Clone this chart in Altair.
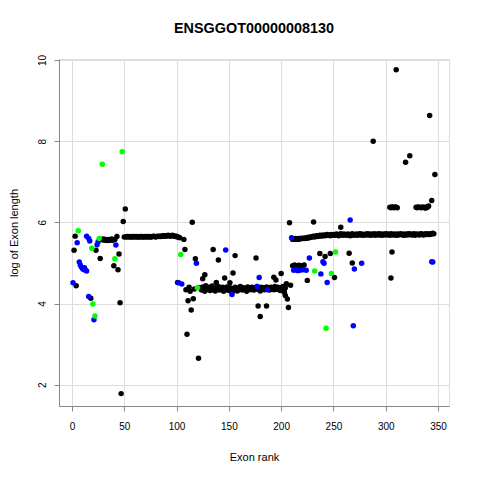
import altair as alt
import pandas as pd

FONT = "Liberation Sans"

# ---------------- data ----------------
# long plateaus of black points (one value per exon rank)
plat1_start = 52
plat1_vals = [5.64,5.65,5.64,5.65,5.64,5.64,5.65,5.64,5.65,5.64,
              5.65,5.64,5.64,5.65,5.64,5.65,5.64,5.64,5.65,5.64,
              5.65,5.64,5.65,5.64,5.64,5.65,5.66,5.65,5.64,5.65,
              5.66,5.65,5.66,5.65,5.66,5.67,5.66,5.67,5.66,5.67,
              5.68,5.67,5.66,5.67,5.68,5.67,5.66,5.65,5.66,5.64,
              5.63,5.62]

plat2_start = 123
plat2_vals = [4.38,4.33,4.41,4.36,4.30,4.44,4.37,4.35,4.40,4.32,
              4.38,4.43,4.34,4.37,4.31,4.39,4.36,4.42,4.33,4.38,
              4.35,4.40,4.30,4.37,4.34,4.41,4.36,4.32,4.39,4.35,
              4.28,4.37,4.33,4.40,4.35,4.31,4.38,4.34,4.42,4.36,
              4.33,4.39,4.35,4.37,4.30,4.41,4.36,4.38,4.34,4.40,
              4.37,4.33,4.39,4.36,4.42,4.35,4.38,4.31,4.40,4.36,
              4.39,4.34,4.37,4.41,4.35,4.38,4.33,4.40,4.36,4.39,
              4.34,4.42,4.37,4.35,4.40,4.38,4.32,4.36,4.41,4.37,
              4.35,4.39]

plat3_start = 211
plat3_vals = [5.58,5.59,5.58,5.60,5.59,5.58,5.60,5.59,5.60,5.61,
              5.60,5.61,5.60,5.62,5.61,5.63,5.62,5.64,5.63,5.65,
              5.66,5.64,5.66,5.67,5.65,5.67,5.68,5.66,5.68,5.67,
              5.69,5.67,5.68,5.70,5.68,5.69,5.67,5.70,5.69,5.68,
              5.70,5.68,5.71,5.69,5.67,5.70,5.72,5.69,5.68,5.71,
              5.69,5.70,5.68,5.71,5.69,5.67,5.70,5.72,5.68,5.70,
              5.69,5.71,5.68,5.70,5.72,5.69,5.71,5.68,5.70,5.69,
              5.71,5.69,5.72,5.70,5.68,5.71,5.69,5.70,5.72,5.68,
              5.70,5.71,5.69,5.72,5.70,5.68,5.71,5.69,5.70,5.72,
              5.69,5.71,5.70,5.68,5.72,5.70,5.69,5.71,5.70,5.68,
              5.71,5.69,5.70,5.72,5.70,5.69,5.71,5.68,5.70,5.71,
              5.69,5.72,5.70,5.71,5.69,5.70,5.72,5.68,5.70,5.71,
              5.70,5.69,5.71,5.72,5.70,5.69,5.71,5.70,5.72,5.70,
              5.71,5.70,5.72,5.71,5.73,5.72]

# other black points
black_rank = [2, 3, 4, 18, 23, 27,
              28, 29, 30, 31, 32, 33, 34, 35, 36, 37, 38, 39, 41,
              40, 43, 44, 45, 46, 47, 49, 50, 51,
              101, 107, 108, 109, 110, 111, 112, 113, 114, 115, 116, 117, 118, 121, 122,
              125, 127, 135, 138, 140, 146, 151, 154, 156, 176, 178, 180, 186, 193, 195, 200,
              201, 202, 203, 204, 205, 206, 207, 208, 209,
              211, 213, 215, 217, 219, 222, 225, 231, 237, 242, 247, 251, 257, 265, 268,
              288, 305, 306,
              304, 305, 306, 307, 308, 309, 310, 311,
              310, 319, 323,
              329, 330, 331, 332, 334, 335, 337, 338, 339, 340, 341,
              342, 344, 347]
black_val = [5.31, 5.66, 4.44, 4.13, 5.31, 5.11,
             5.58, 5.57, 5.59, 5.56, 5.58, 5.57, 5.55, 5.58, 5.56, 5.57, 5.59, 5.56, 5.58,
             4.93, 5.65, 4.83, 5.22, 4.02, 1.78, 6.02, 5.64, 6.33,
             4.52, 5.58, 5.33, 4.34, 3.24, 4.07, 4.40, 4.30, 3.84, 6.00, 4.12, 4.36, 5.10, 2.65, 4.39,
             4.61, 4.71, 5.33, 4.52, 5.07, 4.63, 4.51, 4.75, 5.18, 5.12, 3.94, 3.68, 3.94, 4.65, 4.58, 4.74,
             4.35, 4.42, 4.28, 4.20, 4.49, 4.11, 3.90, 5.99, 4.45,
             4.93, 4.95, 4.92, 4.94, 4.93, 4.95, 4.57, 6.01, 5.23, 5.16, 5.23, 4.64, 5.88, 5.24, 5.00,
             8.00, 4.63, 5.27,
             6.37, 6.36, 6.38, 6.37, 6.36, 6.38, 6.37, 6.36,
             9.76, 7.48, 7.64,
             6.37, 6.36, 6.38, 6.37, 6.36, 6.38, 6.37, 6.35, 6.38, 6.37, 6.40,
             8.63, 6.54, 7.18]

blue_rank = [1, 5, 7, 8, 9, 10, 11, 12, 13, 14, 14, 16, 17, 16, 21, 24, 25, 42,
             102, 105, 119, 147, 153, 177, 179, 187,
             210, 212, 214, 216, 218, 221, 224, 227, 238, 240, 241, 244,
             266, 269, 270, 277, 344, 345]
blue_val = [4.51, 5.50, 5.02, 4.95, 4.90, 4.86, 4.84, 4.88, 4.82, 4.80, 5.66, 5.60, 5.54, 4.17, 3.60, 5.45, 5.52, 5.44,
            4.51, 4.48, 4.99, 5.32, 4.22, 4.42, 4.64, 4.34,
            5.62, 4.82, 4.83, 4.81, 4.82, 4.83, 4.82, 5.12, 4.73, 5.03, 4.99, 4.52,
            6.06, 3.45, 4.85, 4.99, 5.03, 5.02]

green_rank = [6, 19, 20, 22, 26, 29, 41, 48, 104, 120, 232, 243, 248, 252]
green_val = [5.79, 5.36, 3.99, 3.69, 5.60, 7.43, 5.10, 7.74, 5.21, 4.39, 4.80, 3.39, 4.74, 5.27]

x_ticks = [0, 50, 100, 150, 200, 250, 300, 350]
y_ticks = [2, 4, 6, 8, 10]

# ---------------- table ----------------
rows = []
for start, vals in [(plat1_start, plat1_vals), (plat2_start, plat2_vals), (plat3_start, plat3_vals)]:
    for i, v in enumerate(vals):
        rows.append((start + i, v, "black"))
rows += [(r, v, "black") for r, v in zip(black_rank, black_val)]
rows += [(r, v, "blue") for r, v in zip(blue_rank, blue_val)]
rows += [(r, v, "green") for r, v in zip(green_rank, green_val)]
df = pd.DataFrame(rows, columns=["rank", "loglen", "group"])
df["order"] = range(len(df))

chart = alt.Chart(df).mark_circle(size=30, opacity=1).encode(
    x=alt.X("rank:Q",
            scale=alt.Scale(domain=[-12.4, 360.5], nice=False, zero=False),
            axis=alt.Axis(values=x_ticks, title="Exon rank", titleY=54.5,
                          titleBaseline="alphabetic", titleFontWeight=400,
                          labelPadding=10)),
    y=alt.Y("loglen:Q",
            scale=alt.Scale(domain=[1.475, 10.024], nice=False, zero=False),
            axis=alt.Axis(values=y_ticks, title="log of Exon length", titleX=-42,
                          titleBaseline="alphabetic", titleFontWeight=400,
                          labelAngle=270,
                          labelAlign="center", labelBaseline="alphabetic", labelPadding=9)),
    color=alt.Color("group:N",
                    scale=alt.Scale(domain=["black", "blue", "green"],
                                    range=["#000000", "#0000FF", "#00FF00"]),
                    legend=None),
    order="order:Q",
).properties(
    width=390,
    height=347,
    title=alt.TitleParams("ENSGGOT00000008130", font=FONT, fontSize=14.4,
                          fontWeight="bold", color="black", anchor="middle",
                          baseline="alphabetic", offset=7),
    autosize=alt.AutoSizeParams(type="none"),
    padding={"left": 51, "top": 51, "right": 22, "bottom": 60},
).configure_view(
    stroke="black", strokeWidth=1, fill="white"
).configure_axis(
    grid=False, domain=False, ticks=True, tickSize=7, tickColor="black",
    labelFont=FONT, labelFontSize=12, labelColor="black",
    titleFont=FONT, titleFontSize=12, titleFontWeight=400, titleColor="black",
).configure(background="white")

chart.save("out.html", embed_options={"renderer": "svg", "actions": False})
